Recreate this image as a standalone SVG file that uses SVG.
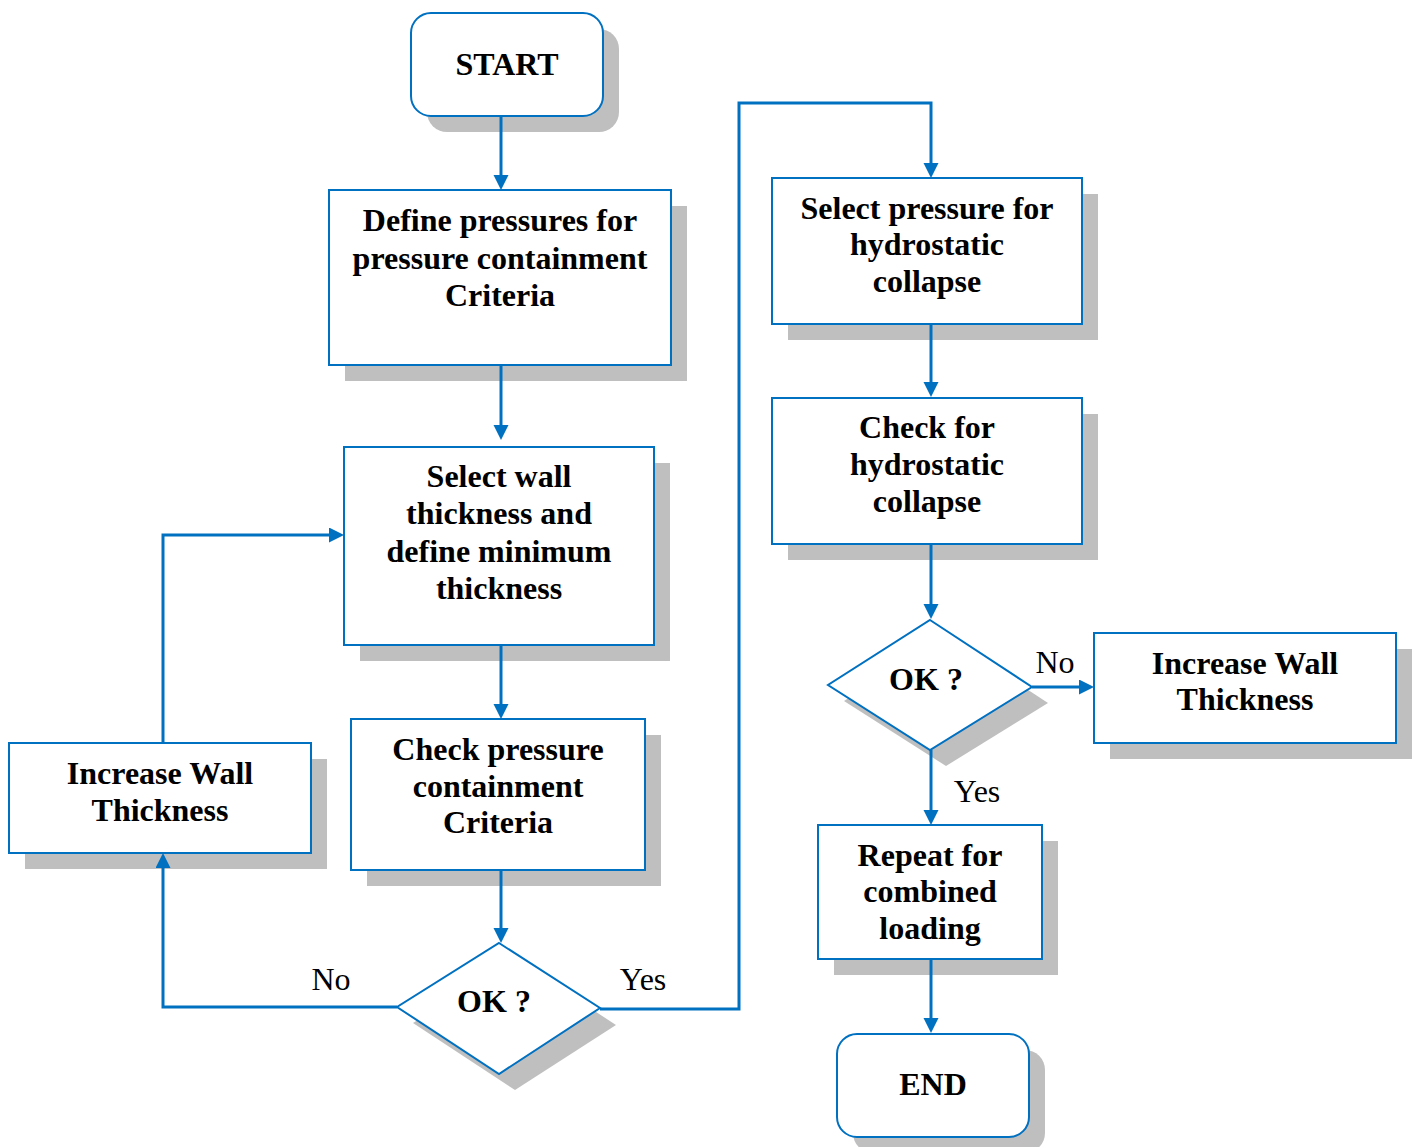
<svg xmlns="http://www.w3.org/2000/svg" width="1415" height="1147" viewBox="0 0 1415 1147">
<defs>
<style>
.box{fill:#fff;stroke:#0070C0;stroke-width:2}
.sh{fill:#BFBFBF;stroke:none}
.t{font-family:"Liberation Serif","Times New Roman",serif;font-weight:bold;font-size:32px;fill:#000;text-anchor:middle}
.lbl{font-family:"Liberation Serif","Times New Roman",serif;font-size:32px;fill:#000;text-anchor:middle}
.c{fill:none;stroke:#0070C0;stroke-width:3}
</style>
<marker id="ah" markerUnits="userSpaceOnUse" markerWidth="16" markerHeight="16" refX="11" refY="7.5" orient="auto">
<path d="M0,0 L15,7.5 L0,15 z" fill="#0070C0"/>
</marker>
</defs>
<rect width="1415" height="1147" fill="#fff"/>

<g id="start">
<rect class="sh" x="427" y="29" width="192" height="103" rx="20"/>
<rect class="box" x="411" y="13" width="192" height="103" rx="20"/>
<text class="t" x="507" y="75">START</text>
</g>

<g id="define">
<rect class="sh" x="345" y="206" width="342" height="175"/>
<rect class="box" x="329" y="190" width="342" height="175"/>
<text class="t" x="500" y="231">Define pressures for</text>
<text class="t" x="500" y="269">pressure containment</text>
<text class="t" x="500" y="306">Criteria</text>
</g>

<g id="selectwall">
<rect class="sh" x="360" y="463" width="310" height="198"/>
<rect class="box" x="344" y="447" width="310" height="198"/>
<text class="t" x="499" y="487">Select wall</text>
<text class="t" x="499" y="524">thickness and</text>
<text class="t" x="499" y="562">define minimum</text>
<text class="t" x="499" y="599">thickness</text>
</g>

<g id="checkpressure">
<rect class="sh" x="367" y="735" width="294" height="151"/>
<rect class="box" x="351" y="719" width="294" height="151"/>
<text class="t" x="498" y="760">Check pressure</text>
<text class="t" x="498" y="797">containment</text>
<text class="t" x="498" y="833">Criteria</text>
</g>

<g id="ok1">
<polygon class="sh" points="515,959 616,1025 515,1090 413,1023"/>
<polygon class="box" points="499,943 600,1008 499,1074 397,1007"/>
<text class="t" x="494" y="1012">OK ?</text>
</g>

<g id="increase1">
<rect class="sh" x="25" y="759" width="302" height="110"/>
<rect class="box" x="9" y="743" width="302" height="110"/>
<text class="t" x="160" y="784">Increase Wall</text>
<text class="t" x="160" y="821">Thickness</text>
</g>

<g id="selecthydro">
<rect class="sh" x="788" y="194" width="310" height="146"/>
<rect class="box" x="772" y="178" width="310" height="146"/>
<text class="t" x="927" y="219">Select pressure for</text>
<text class="t" x="927" y="255">hydrostatic</text>
<text class="t" x="927" y="292">collapse</text>
</g>

<g id="checkhydro">
<rect class="sh" x="788" y="414" width="310" height="146"/>
<rect class="box" x="772" y="398" width="310" height="146"/>
<text class="t" x="927" y="438">Check for</text>
<text class="t" x="927" y="475">hydrostatic</text>
<text class="t" x="927" y="512">collapse</text>
</g>

<g id="ok2">
<polygon class="sh" points="946,636 1048,703 946,766 844,701"/>
<polygon class="box" points="930,620 1032,687 930,750 828,685"/>
<text class="t" x="926" y="690">OK ?</text>
</g>

<g id="increase2">
<rect class="sh" x="1110" y="649" width="302" height="110"/>
<rect class="box" x="1094" y="633" width="302" height="110"/>
<text class="t" x="1245" y="674">Increase Wall</text>
<text class="t" x="1245" y="710">Thickness</text>
</g>

<g id="repeat">
<rect class="sh" x="834" y="841" width="224" height="134"/>
<rect class="box" x="818" y="825" width="224" height="134"/>
<text class="t" x="930" y="866">Repeat for</text>
<text class="t" x="930" y="902">combined</text>
<text class="t" x="930" y="939">loading</text>
</g>

<g id="end">
<rect class="sh" x="853" y="1050" width="192" height="103" rx="20"/>
<rect class="box" x="837" y="1034" width="192" height="103" rx="20"/>
<text class="t" x="933" y="1095">END</text>
</g>

<g id="connectors">
<path class="c" d="M501,116 V186" marker-end="url(#ah)"/>
<path class="c" d="M501,365 V436" marker-end="url(#ah)"/>
<path class="c" d="M501,645 V715" marker-end="url(#ah)"/>
<path class="c" d="M501,870 V939" marker-end="url(#ah)"/>
<path class="c" d="M397,1007 H163 V857" marker-end="url(#ah)"/>
<path class="c" d="M163,743 V535 H340" marker-end="url(#ah)"/>
<path class="c" d="M600,1009 H739 V103 H931 V174" marker-end="url(#ah)"/>
<path class="c" d="M931,324 V393" marker-end="url(#ah)"/>
<path class="c" d="M931,544 V615" marker-end="url(#ah)"/>
<path class="c" d="M1032,687 H1090" marker-end="url(#ah)"/>
<path class="c" d="M931,750 V821" marker-end="url(#ah)"/>
<path class="c" d="M931,959 V1029" marker-end="url(#ah)"/>
<text class="lbl" x="331" y="990">No</text>
<text class="lbl" x="643" y="990">Yes</text>
<text class="lbl" x="1055" y="673">No</text>
<text class="lbl" x="977" y="802">Yes</text>
</g>
</svg>
